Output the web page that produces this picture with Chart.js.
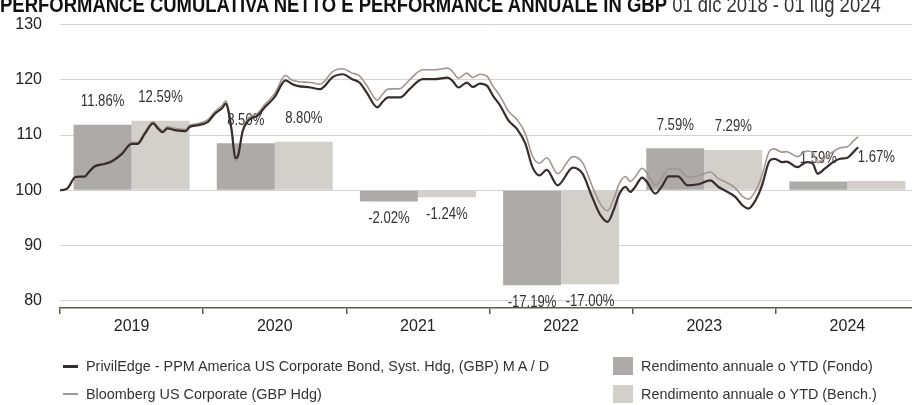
<!DOCTYPE html>
<html>
<head>
<meta charset="utf-8">
<script src="https://cdn.jsdelivr.net/npm/chart.js@4.4.1/dist/chart.umd.min.js"></script>
<style>
  html, body { margin: 0; padding: 0; background: #fff; width: 912px; height: 405px; overflow: hidden; }
  #wrap { position: absolute; left: 0; top: 0; width: 925px; height: 405px; }
  .sans { font-family: 'Liberation Sans', Arial, Helvetica, sans-serif; }
  #title { position: absolute; left: 0; top: -6px; font-size: 22px; line-height: 22px; color: #333; white-space: nowrap;
           transform: scaleX(0.84); transform-origin: 0 0; }
  #title b { color: #111; }
  .leg { position: absolute; font-size: 14.4px; line-height: 16px; color: #333; white-space: nowrap; }
  .sw { position: absolute; }
</style>
</head>
<body>
<div id="wrap"><canvas id="perfChart" width="925" height="405"></canvas></div>
<div id="title" class="sans"><b>PERFORMANCE CUMULATIVA NETTO E PERFORMANCE ANNUALE IN GBP</b> 01 dic 2018 - 01 lug 2024</div>

<div class="sw" style="left:63px; top:365px; width:15px; height:3px; background:#372d2d;"></div>
<div class="leg sans" style="left:86px; top:358px;">PrivilEdge - PPM America US Corporate Bond, Syst. Hdg, (GBP) M A / D</div>
<div class="sw" style="left:63px; top:393px; width:15px; height:2px; background:#a2968f;"></div>
<div class="leg sans" style="left:86px; top:386px;">Bloomberg US Corporate (GBP Hdg)</div>
<div class="sw" style="left:613px; top:357px; width:20px; height:18px; background:#aeaaaa;"></div>
<div class="leg sans" style="left:641px; top:358px;">Rendimento annuale o YTD (Fondo)</div>
<div class="sw" style="left:613px; top:385px; width:20px; height:18px; background:#d3cfcb;"></div>
<div class="leg sans" style="left:641px; top:386px;">Rendimento annuale o YTD (Bench.)</div>

<script>
const years = ['2019', '2020', '2021', '2022', '2023', '2024'];
const yearMid = [6, 18, 30, 42, 54, 66];   // middle of each year, in months on the line axis
const fundReturns = [11.86, 8.50, -2.02, -17.19, 7.59, 1.59];
const benchReturns = [12.59, 8.80, -1.24, -17.00, 7.29, 1.67];

// months since 01 dic 2018
const months = [0, 0.6, 1.3, 2.1, 2.3, 2.9, 3.8, 4.4, 5.2, 6.0,
    6.5, 7.1, 7.8, 8.2, 8.6, 9.0, 9.6, 10.5, 10.9, 11.6,
    12.4, 13.0, 13.6, 13.9, 14.1, 14.4, 14.7, 14.9, 15.3, 15.7,
    16.1, 16.5, 17.2, 18.0, 18.9, 19.4, 19.9, 21.0, 21.8, 22.2,
    22.8, 23.7, 24.5, 25.1, 25.7, 26.6, 27.0, 27.5, 28.5, 29.3,
    30.4, 31.4, 32.5, 32.9, 33.4, 34.1, 34.6, 35.2, 35.8, 36.3,
    36.9, 37.6, 38.3, 39.0, 39.6, 40.2, 40.8, 41.7, 43.0, 43.8,
    44.6, 45.3, 45.9, 46.4, 46.9, 47.4, 47.8, 48.2, 48.8, 49.2,
    49.9, 50.5, 51.0, 51.8, 52.6, 53.5, 54.5, 55.2, 55.7, 56.6,
    57.2, 57.7, 58.3, 58.8, 59.5, 59.9, 60.5, 60.9, 61.8, 62.6,
    63.1, 63.5, 64.1, 64.8, 65.4, 66.0, 66.5, 66.9];

const fundLine = [100, 100.3, 102.4, 102.5, 103.0, 104.3, 104.8, 105.3, 106.6, 108.4,
    108.4, 110.2, 112.1, 111.2, 110.5, 111.2, 110.9, 110.7, 111.5, 111.8,
    112.4, 113.9, 114.9, 115.7, 114.5, 110.6, 105.8, 106.1, 110.6, 112.4,
    113.1, 113.4, 115.1, 116.9, 119.9, 119.3, 118.9, 118.6, 118.3, 118.9,
    120.4, 121.0, 120.1, 119.5, 117.7, 115.0, 115.9, 116.8, 116.8, 118.3,
    120.1, 120.1, 120.4, 119.8, 118.6, 119.5, 118.7, 119.3, 118.9, 117.1,
    115.3, 112.6, 111.1, 108.5, 104.2, 102.7, 103.7, 100.9, 104.1, 103.0,
    98.8, 95.5, 94.3, 96.4, 99.4, 100.6, 99.7, 100.6, 102.3, 101.5,
    99.4, 100.9, 102.5, 102.5, 100.9, 101.1, 101.8, 100.6, 100.0, 98.8,
    97.3, 96.7, 98.2, 100.6, 105.4, 105.7, 105.1, 105.2, 104.2, 105.1,
    104.8, 103.0, 103.9, 105.1, 105.7, 105.9, 106.9, 107.8];

const benchLine = [100, 100.3, 102.5, 102.6, 103.2, 104.5, 105.0, 105.5, 106.9, 108.7,
    108.7, 110.5, 112.4, 111.5, 110.8, 111.5, 111.2, 111.0, 111.8, 112.1,
    112.8, 114.3, 115.4, 116.2, 114.9, 110.8, 105.2, 105.7, 110.8, 112.8,
    113.5, 113.8, 115.6, 117.5, 120.8, 120.0, 119.7, 119.5, 119.2, 119.8,
    121.4, 122.0, 121.2, 120.7, 119.0, 116.3, 117.3, 118.3, 118.4, 120.0,
    121.8, 121.8, 122.1, 121.5, 120.3, 121.2, 120.4, 121.0, 120.6, 118.8,
    117.0, 114.3, 112.8, 110.3, 106.2, 104.9, 105.9, 103.0, 106.1, 105.0,
    100.8, 97.5, 96.3, 98.4, 101.3, 102.5, 101.6, 102.4, 104.0, 103.1,
    100.9, 102.4, 103.9, 103.9, 102.4, 102.6, 103.3, 102.1, 101.6, 100.4,
    98.9, 98.4, 99.9, 102.4, 107.2, 107.5, 106.9, 107.0, 106.1, 107.1,
    106.8, 105.0, 105.9, 107.0, 107.7, 107.9, 108.9, 109.7];

const FONT = "'Liberation Sans', Arial, Helvetica, sans-serif";

// percentage labels above / below the bars, drawn before the lines
const barLabels = {
    id: 'barLabels',
    afterDatasetDraw(chart, args) {
        if (args.index !== 0) return;
        const ctx = chart.ctx;
        ctx.save();
        ctx.font = '16px ' + FONT;
        ctx.fillStyle = '#333';
        ctx.textAlign = 'center';
        ctx.textBaseline = 'middle';
        [fundReturns, benchReturns].forEach((vals, di) => {
            chart.getDatasetMeta(di).data.forEach((bar, i) => {
                const v = vals[i];
                const y = v >= 0 ? bar.y - 23 : bar.y + 17;
                ctx.save();
                ctx.translate(bar.x, y);
                ctx.scale(0.82, 1);
                ctx.fillText(v.toFixed(2) + '%', 0, 0);
                ctx.restore();
            });
        });
        ctx.restore();
    }
};

new Chart(document.getElementById('perfChart'), {
    type: 'bar',
    data: {
        labels: years,
        datasets: [{
            type: 'bar',
            label: 'Rendimento annuale o YTD (Fondo)',
            data: fundReturns.map((r, i) => ({ x: yearMid[i], y: 100 + r })),
            base: 100,
            backgroundColor: '#aeaaaa',
            categoryPercentage: 0.81,
            barPercentage: 1,
            xAxisID: 'xl',
            order: 2
        }, {
            type: 'bar',
            label: 'Rendimento annuale o YTD (Bench.)',
            data: benchReturns.map((r, i) => ({ x: yearMid[i], y: 100 + r })),
            base: 100,
            backgroundColor: '#d3cfcb',
            categoryPercentage: 0.81,
            barPercentage: 1,
            xAxisID: 'xl',
            order: 3
        }, {
            type: 'line',
            label: 'Bloomberg US Corporate (GBP Hdg)',
            data: months.map((m, i) => ({ x: m, y: benchLine[i] })),
            xAxisID: 'xl',
            borderColor: '#a2968f',
            borderWidth: 1.6,
            pointRadius: 0,
            cubicInterpolationMode: 'monotone',
            order: 1
        }, {
            type: 'line',
            label: 'PrivilEdge - PPM America US Corporate Bond, Syst. Hdg, (GBP) M A / D',
            data: months.map((m, i) => ({ x: m, y: fundLine[i] })),
            xAxisID: 'xl',
            borderColor: '#372d2d',
            borderWidth: 2.2,
            pointRadius: 0,
            cubicInterpolationMode: 'monotone',
            order: 0
        }]
    },
    options: {
        responsive: false,
        animation: false,
        layout: { padding: { top: 24.5, right: 6, bottom: 57, left: 0 } },
        plugins: { legend: { display: false }, tooltip: { enabled: false } },
        scales: {
            x: {
                type: 'category',
                offset: true,
                grid: { offset: true, drawOnChartArea: false, tickLength: 6, color: '#5b5b4b', lineWidth: 1.5 },
                border: { display: true, color: '#5b5b4b', width: 1.5 },
                ticks: { padding: 3, color: '#222', font: { family: FONT, size: 16 } },
                afterFit(s) { s.height = 40; }
            },
            xl: { type: 'linear', min: 0, max: 72, offset: false, display: false, ticks: { stepSize: 12 } },
            y: {
                min: 78.7,
                max: 130,
                ticks: { stepSize: 10, includeBounds: false, padding: 0, color: '#222', font: { family: FONT, size: 16 } },
                grid: { color: '#d2d2d2', lineWidth: 1, drawTicks: true, tickLength: 18, tickColor: 'rgba(0,0,0,0)' },
                border: { display: false },
                afterFit(s) { s.width = 60; }
            }
        }
    },
    plugins: [barLabels]
});
</script>
</body>
</html>
